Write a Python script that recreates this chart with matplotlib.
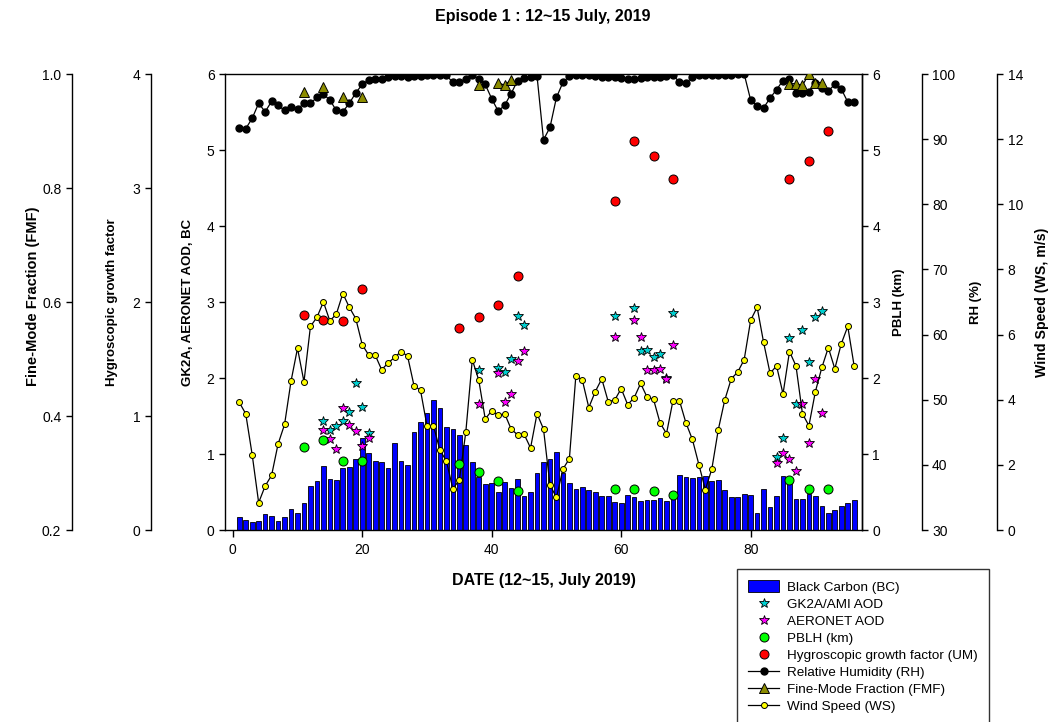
import numpy as np
import matplotlib
matplotlib.use("Agg")
import matplotlib.pyplot as plt

plt.rcParams["font.family"] = ["Liberation Sans", "DejaVu Sans"]
plt.rcParams["font.size"] = 10

# ---- data (hourly index over 12~15 July 2019) ----
hours = np.arange(1, 97)

black_carbon = [
    0.175, 0.13, 0.105, 0.12, 0.21, 0.18, 0.12, 0.17, 0.28, 0.23,
    0.36, 0.58, 0.64, 0.84, 0.67, 0.66, 0.81, 0.83, 0.94, 1.21,
    1.01, 0.91, 0.89, 0.82, 1.15, 0.91, 0.86, 1.29, 1.42, 1.54,
    1.71, 1.61, 1.36, 1.33, 1.25, 1.12, 0.90, 0.70, 0.60, 0.62,
    0.50, 0.63, 0.55, 0.67, 0.45, 0.50, 0.75, 0.89, 0.93, 1.03,
    0.75, 0.62, 0.54, 0.56, 0.53, 0.50, 0.45, 0.45, 0.37, 0.35,
    0.46, 0.44, 0.38, 0.39, 0.39, 0.42, 0.38, 0.45, 0.72, 0.70,
    0.68, 0.70, 0.71, 0.65, 0.66, 0.53, 0.43, 0.44, 0.47, 0.46,
    0.22, 0.54, 0.30, 0.45, 0.71, 0.67, 0.41, 0.41, 0.47, 0.45,
    0.31, 0.23, 0.26, 0.32, 0.36, 0.39,
]

rel_humidity = [
    91.7, 91.6, 93.2, 95.5, 94.2, 95.8, 95.2, 94.4, 95.0, 94.6,
    95.5, 95.5, 96.4, 96.9, 96.0, 94.4, 94.2, 95.5, 97.1, 98.4,
    99.1, 99.2, 99.2, 99.5, 99.7, 99.7, 99.5, 99.7, 99.7, 99.8,
    99.8, 99.8, 99.8, 98.7, 98.7, 99.3, 99.8, 99.3, 98.4, 96.2,
    94.3, 95.2, 97.0, 99.0, 99.4, 99.5, 99.7, 89.9, 91.8, 96.4,
    98.7, 99.7, 99.8, 99.9, 99.8, 99.7, 99.6, 99.6, 99.6, 99.4,
    99.3, 99.3, 99.4, 99.6, 99.5, 99.6, 99.7, 99.9, 98.7, 98.6,
    99.5, 99.8, 99.9, 99.9, 99.9, 99.9, 99.9, 100.0, 100.0, 96.0,
    95.1, 94.8, 96.3, 97.6, 99.0, 99.2, 97.1, 97.1, 97.3, 98.6,
    97.8, 97.4, 98.4, 97.7, 95.7, 95.7,
]

wind_speed = [
    3.92, 3.57, 2.31, 0.84, 1.35, 1.68, 2.64, 3.24, 4.57, 5.58,
    4.55, 6.25, 6.53, 7.00, 6.42, 6.63, 7.26, 6.84, 6.49, 5.69,
    5.37, 5.37, 4.92, 5.13, 5.30, 5.48, 5.34, 4.43, 4.29, 3.20,
    3.20, 2.45, 2.12, 1.26, 1.54, 3.01, 5.23, 4.60, 3.41, 3.66,
    3.52, 3.57, 3.10, 2.92, 2.94, 2.52, 3.57, 3.10, 1.38, 1.00,
    1.87, 2.19, 4.74, 4.60, 3.76, 4.25, 4.64, 3.94, 3.99, 4.34,
    3.85, 4.06, 4.50, 4.08, 4.01, 3.29, 2.96, 3.97, 3.97, 3.29,
    2.78, 2.01, 1.24, 1.87, 3.08, 3.99, 4.64, 4.85, 5.23, 6.44,
    6.84, 5.76, 4.81, 5.04, 4.18, 5.48, 5.04, 3.57, 3.20, 4.25,
    4.99, 5.60, 4.95, 5.72, 6.25, 5.02,
]

fmf_hours = [11, 14, 17, 20, 38, 41, 42, 43, 86, 87, 88, 89, 90, 91]
fmf_values = [0.968, 0.978, 0.960, 0.959, 0.980, 0.985, 0.980, 0.990,
              0.983, 0.983, 0.980, 1.000, 0.985, 0.985]

aod_hours = [14, 15, 16, 17, 18, 19, 20, 21, 38, 41, 42, 43, 44, 45,
             59, 62, 63, 64, 65, 66, 67, 68, 84, 85, 86, 87, 88, 89, 90, 91]
gk2a_aod = [1.43, 1.32, 1.37, 1.43, 1.55, 1.93, 1.62, 1.28,
            2.11, 2.13, 2.08, 2.25, 2.81, 2.70,
            2.81, 2.92, 2.35, 2.37, 2.28, 2.31, 2.00, 2.85,
            0.96, 1.21, 2.52, 1.66, 2.63, 2.21, 2.80, 2.88]
aeronet_aod = [1.31, 1.20, 1.07, 1.60, 1.38, 1.30, 1.10, 1.21,
               1.66, 2.06, 1.69, 1.79, 2.22, 2.35,
               2.54, 2.76, 2.54, 2.10, 2.11, 2.12, 1.99, 2.43,
               0.88, 1.01, 0.93, 0.78, 1.66, 1.15, 1.99, 1.54]

um_hours = [11, 14, 17, 20, 35, 38, 41, 44, 59, 62, 65, 68, 86, 89, 92]
pblh_km = [1.09, 1.18, 0.91, 0.91, 0.87, 0.76, 0.64, 0.51,
           0.54, 0.54, 0.51, 0.46, 0.66, 0.54, 0.54]
growth_factor = [1.89, 1.84, 1.83, 2.11, 1.77, 1.87, 1.97, 2.23,
                 2.89, 3.41, 3.28, 3.08, 3.08, 3.24, 3.50]

# FMF drawn as a broken line: gaps where no retrieval exists
fmf_series = np.full(hours.size, np.nan)
fmf_series[np.array(fmf_hours) - 1] = fmf_values

# ---- figure layout ----
W, H = 1063, 722
fig = plt.figure(figsize=(W / 100, H / 100), dpi=100)
ax = fig.add_axes([225 / W, 1 - 530 / H, 637 / W, 456 / H])

TICK = dict(direction="out", length=4.5, width=1.0, pad=3, labelsize=10)
LABEL = dict(fontsize=9.5, fontweight="bold", ha="center", va="center")


def side_axis(side, pos):
    a = ax.twinx()
    for s in a.spines.values():
        s.set_visible(False)
    a.spines[side].set_visible(True)
    a.spines[side].set_position(("axes", pos))
    a.spines[side].set_linewidth(1.0)
    a.yaxis.set_ticks_position(side)
    a.yaxis.set_label_position(side)
    a.tick_params(axis="y", **TICK)
    return a


# main axis: BC bars and AOD stars
bars = ax.bar(hours, black_carbon, width=0.72, color="#0000FF",
              edgecolor="black", linewidth=0.6, zorder=1,
              label="Black Carbon (BC)")
gk, = ax.plot(aod_hours, gk2a_aod, ls="none", marker="*", ms=7,
              mfc="#00D0D0", mec="black", mew=0.6, zorder=3,
              label="GK2A/AMI AOD")
ae, = ax.plot(aod_hours, aeronet_aod, ls="none", marker="*", ms=7,
              mfc="#FF00FF", mec="black", mew=0.6, zorder=3,
              label="AERONET AOD")
ax.set_xlim(-1.2, 97.2)
ax.set_ylim(0, 6)
ax.set_xticks([0, 20, 40, 60, 80])
ax.set_yticks(range(0, 7))
ax.tick_params(axis="x", direction="out", length=5, width=1.0, pad=4, labelsize=10)
ax.tick_params(axis="y", left=True, right=False, **TICK)
for s in ax.spines.values():
    s.set_linewidth(1.0)
ax.set_ylabel("GK2A, AERONET AOD, BC", **LABEL)
ax.yaxis.set_label_coords(-0.0581, 0.5)
ax.set_xlabel("DATE (12~15, July 2019)", fontsize=11.5, fontweight="bold",
              ha="center", va="center")
ax.xaxis.set_label_coords(0.5, (530 - 580) / 456)

# wind speed
ax_ws = side_axis("right", 1.2124)
ws, = ax_ws.plot(hours, wind_speed, color="black", lw=0.9, marker="o", ms=4.3,
                 mfc="#FFFF00", mec="black", mew=0.7, label="Wind Speed (WS)")
ax_ws.set_ylim(0, 14)
ax_ws.set_yticks(range(0, 15, 2))
ax_ws.set_ylabel("Wind Speed (WS, m/s)", fontsize=10.2, fontweight="bold",
                 ha="center", va="center")
ax_ws.yaxis.set_label_coords(1.2821, 0.5)

# relative humidity
ax_rh = side_axis("right", 1.0937)
rh, = ax_rh.plot(hours, rel_humidity, color="black", lw=0.9, marker="o", ms=5,
                 mfc="black", mec="black", label="Relative Humidity (RH)")
ax_rh.set_ylim(30, 100)
ax_rh.set_yticks(range(30, 101, 10))
ax_rh.set_ylabel("RH (%)", **LABEL)
ax_rh.yaxis.set_label_coords(1.1790, 0.5)

# fine-mode fraction
ax_fmf = side_axis("left", -0.2407)
fmf, = ax_fmf.plot(hours, fmf_series, color="black", lw=0.9, marker="^", ms=6.5,
                   mfc="#8C8C00", mec="black", mew=0.7,
                   label="Fine-Mode Fraction (FMF)")
ax_fmf.set_ylim(0.2, 1.0)
ax_fmf.set_yticks([0.2, 0.4, 0.6, 0.8, 1.0])
ax_fmf.set_yticklabels(["0.2", "0.4", "0.6", "0.8", "1.0"])
ax_fmf.set_ylabel("Fine-Mode Fraction (FMF)", fontsize=10.5, fontweight="bold",
                  ha="center", va="center")
ax_fmf.yaxis.set_label_coords(-0.3014, 0.512)

# planetary boundary layer height
ax_pb = side_axis("right", 1.0)
pb, = ax_pb.plot(um_hours, pblh_km, ls="none", marker="o", ms=6.5,
                 mfc="#00FF00", mec="black", mew=0.7, label="PBLH (km)")
ax_pb.set_ylim(0, 6)
ax_pb.set_yticks(range(0, 7))
ax_pb.set_ylabel("PBLH (km)", **LABEL)
ax_pb.yaxis.set_label_coords(1.0581, 0.5)

# hygroscopic growth factor
ax_gf = side_axis("left", -0.1166)
gf, = ax_gf.plot(um_hours, growth_factor, ls="none", marker="o", ms=6.5,
                 mfc="#FF0000", mec="black", mew=0.7,
                 label="Hygroscopic growth factor (UM)")
ax_gf.set_ylim(0, 4)
ax_gf.set_yticks(range(0, 5))
ax_gf.set_ylabel("Hygroscopic growth factor", **LABEL)
ax_gf.yaxis.set_label_coords(-0.1774, 0.5)

fig.text(543 / W, 1 - 16 / H, "Episode 1 : 12~15 July, 2019",
         ha="center", va="center", fontsize=11.5, fontweight="bold")

handles = [bars, gk, ae, pb, gf, rh, fmf, ws]
leg = fig.legend(handles, [h.get_label() for h in handles],
                 loc="upper left", bbox_to_anchor=(737 / W, 1 - 569 / H),
                 borderaxespad=0, frameon=True, fancybox=False, shadow=False,
                 fontsize=9.7, handlelength=2.3, handleheight=0.9,
                 handletextpad=0.55, labelspacing=0.28, borderpad=0.85)
leg.get_frame().set_edgecolor("black")
leg.get_frame().set_linewidth(1.0)

fig.savefig("out.png", dpi=100)
